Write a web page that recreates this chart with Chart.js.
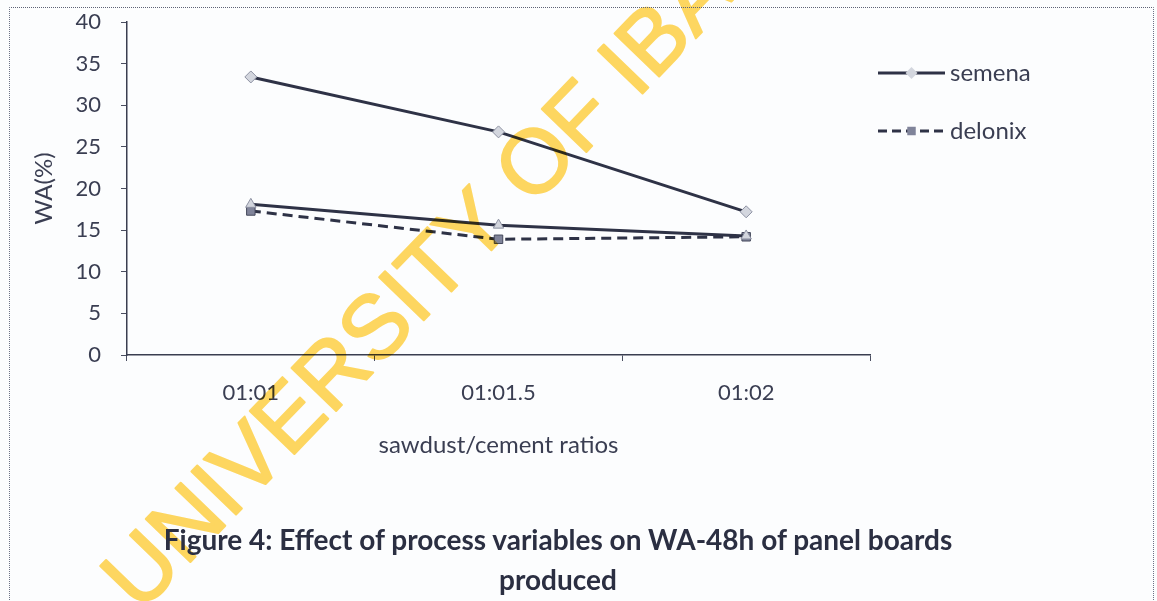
<!DOCTYPE html>
<html>
<head>
<meta charset="utf-8">
<title>WA-48h of panel boards</title>
<script src="https://cdn.jsdelivr.net/npm/chart.js@4/dist/chart.umd.min.js"></script>
<style>
    html, body { margin: 0; padding: 0; background: #fcfdfe; }
    #wrap { position: relative; width: 1157px; height: 601px; overflow: hidden; }
    #chart { position: absolute; left: 0; top: 0; }
    #frame {
        position: absolute; left: 9px; top: 7px; width: 1143px; height: 600px;
        border-top: 1px dotted #5d6275; border-left: 1px dotted #6d7285; border-right: 1px dotted #6d7285;
        pointer-events: none;
    }
    .caption {
        position: absolute; left: 0; width: 1116px; text-align: center;
        font-family: Lato, "Open Sans", sans-serif; font-weight: 700; font-size: 28px;
        color: #2b2f42;
    }
</style>
</head>
<body>
<div id="wrap">
    <canvas id="chart" width="1157" height="601"></canvas>
    <div id="frame"></div>
    <div class="caption" style="top:522px">Figure 4: Effect of process variables on WA-48h of panel boards</div>
    <div class="caption" style="top:562px">produced</div>
</div>
<script>
// =========================================================
// DATA
// =========================================================
const categories = ['01:01', '01:01.5', '01:02'];
const semena = [33.4, 26.8, 17.2];
const semenaLower = [18.1, 15.6, 14.3];   // second solid curve, not in the legend
const delonix = [17.3, 13.9, 14.2];
const yMin = 0;
const yMax = 40;
const yStep = 5;

// =========================================================
// STYLE
// =========================================================
const INK = '#2e3246';
const TEXT = '#3a3e52';
const FONT = 'Lato, "Open Sans", sans-serif';

document.addEventListener('DOMContentLoaded', init);

function init() {
    const ctx = document.getElementById('chart');
    new Chart(ctx, {
        type: 'line',
        data: {
            labels: categories,
            datasets: [
                {
                    label: 'semena',
                    data: semena,
                    borderColor: INK,
                    borderWidth: 3,
                    pointStyle: 'rectRot',
                    pointRadius: 6,
                    pointBackgroundColor: '#d3d6de',
                    pointBorderColor: '#8d91a2',
                    pointBorderWidth: 1
                },
                {
                    label: '',
                    data: semenaLower,
                    borderColor: INK,
                    borderWidth: 3,
                    pointStyle: 'triangle',
                    pointRadius: 6,
                    pointBackgroundColor: '#d3d6de',
                    pointBorderColor: '#8d91a2',
                    pointBorderWidth: 1
                },
                {
                    label: 'delonix',
                    data: delonix,
                    borderColor: INK,
                    borderWidth: 3,
                    borderDash: [10, 6],
                    pointStyle: 'rect',
                    pointRadius: 6,
                    pointBackgroundColor: '#80849a',
                    pointBorderColor: '#45495c',
                    pointBorderWidth: 1
                }
            ]
        },
        options: {
            responsive: false,
            animation: false,
            devicePixelRatio: 1,
            layout: { padding: { left: 0, top: 22, right: 287, bottom: 0 } },
            scales: {
                x: {
                    offset: true,
                    afterFit: s => { s.height = 246; },
                    grid: { offset: true, drawOnChartArea: false, tickLength: 6, color: '#4a4e60' },
                    border: { color: '#3a3e50', width: 1.5 },
                    ticks: { color: TEXT, padding: 19, font: { family: FONT, size: 22 } },
                    title: {
                        display: true,
                        text: 'sawdust/cement ratios',
                        color: TEXT,
                        font: { family: FONT, size: 24 },
                        padding: { top: 0, bottom: 141 }
                    }
                },
                y: {
                    min: yMin,
                    max: yMax,
                    // fixed axis width; drop the label padding so the plot reaches y = 22
                    afterFit: s => { s.width = 127; s.paddingTop = 8; s.paddingBottom = 8; },
                    grid: { drawOnChartArea: false, tickLength: 6, color: '#4a4e60' },
                    border: { color: '#3a3e50', width: 1.5 },
                    ticks: { stepSize: yStep, color: TEXT, padding: 20, font: { family: FONT, size: 22 } },
                    title: {
                        display: true,
                        text: 'WA(%)',
                        color: TEXT,
                        font: { family: FONT, size: 24 },
                        padding: { top: 30, bottom: 0 }
                    }
                }
            },
            plugins: {
                legend: { display: false },
                tooltip: { enabled: false },
                sideLegend: {
                    items: [
                        { datasetIndex: 0, y: 73 },
                        { datasetIndex: 2, y: 131 }
                    ],
                    x0: 878, x1: 945, textX: 950
                },
                watermark: { text: 'UNIVERSITY OF IBADAN', x: 140, y: 614, angle: -46, size: 90 }
            }
        },
        plugins: [sideLegendPlugin(), watermarkPlugin()]
    });
}

// =========================================================
// LEGEND: line sample with the marker in its middle
// =========================================================
function sideLegendPlugin() {
    return {
        id: 'sideLegend',
        afterDraw(chart, args, opts) {
            const c = chart.ctx;
            opts.items.forEach(item => {
                const ds = chart.data.datasets[item.datasetIndex];
                c.save();
                c.strokeStyle = ds.borderColor;
                c.lineWidth = ds.borderWidth;
                c.setLineDash(ds.borderDash ? [9, 5] : []);
                c.beginPath();
                c.moveTo(opts.x0, item.y);
                c.lineTo(opts.x1, item.y);
                c.stroke();
                c.setLineDash([]);
                c.fillStyle = ds.pointBackgroundColor;
                c.strokeStyle = ds.pointBorderColor;
                c.lineWidth = 1;
                Chart.helpers.drawPoint(c, { pointStyle: ds.pointStyle, radius: 6, rotation: 0 },
                    (opts.x0 + opts.x1) / 2, item.y);
                c.fillStyle = TEXT;
                c.font = '24px ' + FONT;
                c.textAlign = 'left';
                c.textBaseline = 'middle';
                c.fillText(ds.label, opts.textX, item.y);
                c.restore();
            });
        }
    };
}

// =========================================================
// WATERMARK stamped across the scan
// =========================================================
function watermarkPlugin() {
    return {
        id: 'watermark',
        afterDraw(chart, args, opts) {
            // paint the stamp on its own layer first so fill + outline stay one flat colour
            const layer = document.createElement('canvas');
            layer.width = chart.width;
            layer.height = chart.height;
            const w = layer.getContext('2d');
            w.translate(opts.x, opts.y);
            w.rotate(opts.angle * Math.PI / 180);
            w.fillStyle = 'rgb(253, 214, 96)';
            w.strokeStyle = 'rgb(253, 214, 96)';
            w.lineWidth = 2;
            w.lineJoin = 'round';
            w.font = opts.size + 'px "Liberation Sans", Arial, sans-serif';
            w.textBaseline = 'alphabetic';
            w.fillText(opts.text, 0, 0);
            w.strokeText(opts.text, 0, 0);

            const c = chart.ctx;
            c.save();
            c.globalCompositeOperation = 'multiply';
            c.drawImage(layer, 0, 0);
            c.restore();
        }
    };
}
</script>
</body>
</html>
